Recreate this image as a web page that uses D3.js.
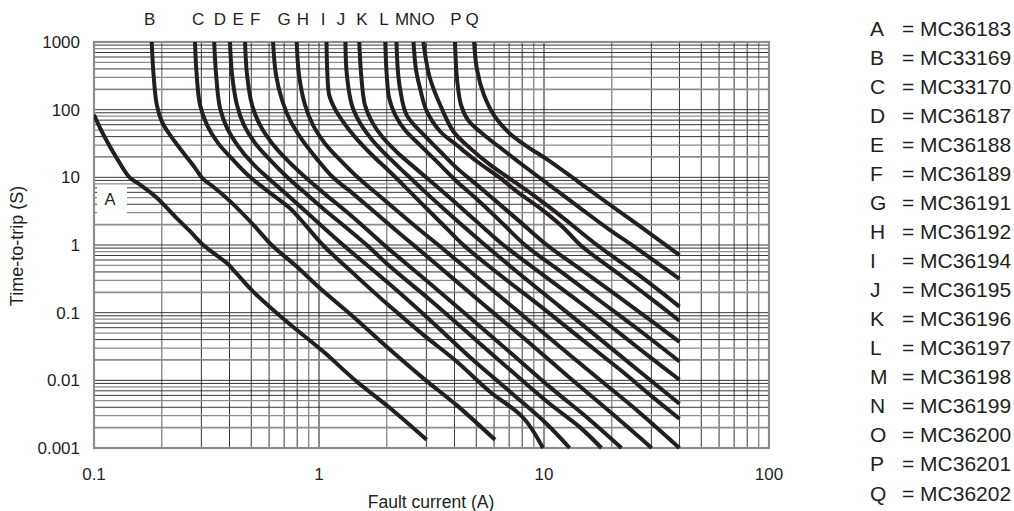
<!DOCTYPE html>
<html>
<head>
<meta charset="utf-8">
<script src="https://cdn.jsdelivr.net/npm/d3@7"></script>
<style>
  body { margin: 0; background: #fff; }
  svg { font-family: "Liberation Sans", Arial, sans-serif; }
</style>
</head>
<body>
<svg id="chart" width="1014" height="511"></svg>
<script>
// curve letters and the part they stand for
var curveNames = ["A","B","C","D","E","F","G","H","I","J","K","L","M","N","O","P","Q"];
var partNumbers = ["MC36183","MC33169","MC33170","MC36187","MC36188","MC36189","MC36191",
  "MC36192","MC36194","MC36195","MC36196","MC36197","MC36198","MC36199","MC36200","MC36201","MC36202"];

// where the letters sit above the plot (current, A)
var labelCurrents = [null,0.177,0.29,0.363,0.437,0.52,0.699,0.849,1.042,1.253,1.553,1.945,2.338,2.672,3.051,4.063,4.786];

// trip curves: [fault current (A), time-to-trip (s)]
var tripA = [[0.1,84],[0.110,43],[0.126,19.4],[0.1445,9.8],[0.160,7.8],[0.190,5.0],[0.233,2.5],[0.267,1.6],[0.306,1.0],[0.389,0.54],[0.416,0.43],[0.51,0.205],[0.718,0.074],[1.045,0.0266],[1.47,0.0096],[2.03,0.0041],[3.01,0.00132]];
var tripB = [[0.1805,1000],[0.1835,369],[0.190,119],[0.2005,66],[0.218,42],[0.246,24.5],[0.281,13.8],[0.305,9.5],[0.3345,7.5],[0.402,4.45],[0.51,2.0],[0.616,1.0],[0.796,0.48],[1.01,0.23],[1.42,0.087],[2.0,0.0313],[2.91,0.0107],[4.09,0.0043],[6.06,0.00132]];
var tripC = [[0.281,1000],[0.286,326],[0.296,117],[0.318,59],[0.356,32],[0.415,18.1],[0.494,10.1],[0.606,5.9],[0.743,3.5],[0.867,2.0],[1.04,1.0],[1.46,0.35],[2.07,0.123],[2.91,0.047],[4.09,0.019],[5.75,0.0068],[8.09,0.0028],[9.9,0.001]];
var tripD = [[0.342,1000],[0.349,326],[0.363,106],[0.390,54],[0.437,29],[0.504,16.3],[0.587,10.1],[0.706,5.9],[0.849,3.4],[1.03,1.9],[1.28,1.0],[2.07,0.26],[3.11,0.078],[4.69,0.022],[7.06,0.0068],[10.1,0.0024],[13.0,0.001]];
var tripE = [[0.402,1000],[0.411,326],[0.432,117],[0.464,59],[0.520,32],[0.606,18.1],[0.721,10.1],[0.867,5.9],[1.06,3.3],[1.31,1.85],[1.63,1.0],[2.07,0.48],[3.11,0.155],[4.69,0.047],[7.06,0.0143],[10.6,0.0045],[14.5,0.002],[18.0,0.001]];
var tripF = [[0.469,1000],[0.479,326],[0.504,117],[0.547,59],[0.618,32],[0.721,18.1],[0.867,10.1],[1.06,5.7],[1.31,3.2],[1.60,1.8],[1.97,0.97],[3.11,0.27],[4.69,0.084],[7.06,0.026],[10.6,0.008],[16.0,0.0026],[22.1,0.001]];
var tripG = [[0.625,1000],[0.644,326],[0.685,139],[0.743,70],[0.840,36],[0.970,19.4],[1.15,10.1],[1.42,5.7],[1.74,3.2],[2.13,1.8],[2.63,1.0],[3.82,0.35],[5.75,0.11],[8.67,0.035],[13.0,0.0109],[19.7,0.0034],[30.1,0.001]];
var tripH = [[0.796,1000],[0.815,326],[0.867,117],[0.940,59],[1.06,32],[1.24,18.1],[1.48,10.1],[1.81,5.7],[2.22,3.2],[2.73,1.8],[3.39,1.0],[5.2,0.305],[7.82,0.099],[11.8,0.031],[17.7,0.0102],[26.7,0.0033],[40,0.001]];
var tripI = [[1.08,1000],[1.09,326],[1.11,165],[1.17,106],[1.28,66],[1.46,38],[1.72,21.4],[2.07,12],[2.54,6.1],[3.11,3.1],[3.71,1.73],[4.38,1.0],[6.38,0.36],[9.6,0.126],[14.5,0.042],[21.8,0.0143],[29.6,0.0061],[40,0.0027]];
var tripJ = [[1.31,1000],[1.33,326],[1.40,117],[1.52,64],[1.72,36],[2.03,20],[2.41,11.6],[2.96,6.1],[3.63,3.3],[4.46,1.8],[5.47,1.0],[7.82,0.37],[11.8,0.122],[17.7,0.041],[26.7,0.0134],[40,0.0045]];
var tripK = [[1.51,1000],[1.54,326],[1.60,117],[1.72,66],[1.93,38],[2.24,22.9],[2.67,13.8],[3.28,7.7],[4.15,3.9],[5.2,2.0],[6.6,1.0],[9.6,0.39],[14.5,0.14],[21.8,0.049],[29.6,0.022],[40,0.0102]];
var tripL = [[1.97,1000],[2.0,326],[2.05,149],[2.18,84],[2.41,50],[2.81,30],[3.35,16.9],[4.06,8.9],[5.09,4.6],[6.44,2.2],[8.23,1.0],[11.8,0.41],[17.7,0.15],[26.7,0.054],[40,0.019]];
var tripM = [[2.21,1000],[2.24,386],[2.29,209],[2.45,84],[2.91,43],[3.45,24.3],[4.09,13.8],[5.02,7.8],[6.38,3.95],[8.09,2.0],[10.3,1.0],[14.5,0.44],[21.8,0.165],[29.6,0.078],[40,0.037]];
var tripN = [[2.63,1000],[2.70,386],[2.81,209],[3.01,95],[3.45,48],[4.09,30],[5.02,17.3],[6.38,9.8],[7.56,6.2],[9.6,3.5],[12.2,1.8],[14.5,1.0],[21.8,0.36],[29.6,0.165],[40,0.076]];
var tripO = [[2.91,1000],[2.99,542],[3.11,294],[3.45,119],[3.95,48],[4.69,27],[5.75,15.4],[7.31,8.8],[9.28,5.0],[12.2,2.5],[17.2,1.0],[26.7,0.35],[40,0.123]];
var tripP = [[4.02,1000],[4.11,275],[4.28,117],[4.6,70],[5.2,47],[6.25,29],[7.82,16.3],[10.4,8.0],[14.2,3.7],[19.3,1.73],[24.9,0.97],[40,0.316]];
var tripQ = [[4.89,1000],[5.04,386],[5.41,165],[6.06,78],[7.06,44],[8.49,28],[10.4,18.1],[14.2,8.6],[19.7,3.9],[28.1,1.67],[40,0.71]];

var trips = [tripA,tripB,tripC,tripD,tripE,tripF,tripG,tripH,tripI,tripJ,tripK,tripL,tripM,tripN,tripO,tripP,tripQ];

var xTickLabels = ["0.1","1","10","100"];
var yTickLabels = ["0.001","0.01","0.1","1","10","100","1000"];

var cfg = { left: 94, right: 769, top: 42, bot: 448 };

var svg = d3.select("#chart");

var x = d3.scaleLog().domain([0.1, 100]).range([cfg.left, cfg.right]);
var y = d3.scaleLog().domain([0.001, 1000]).range([cfg.bot, cfg.top]);

var grey = "#8c8c8c", ink = "#231f20";

// grid - scanned chart has a mix of grey and black rules
var grid = svg.append("g");
x.ticks().forEach(function(v){
  var m = Math.round(v / Math.pow(10, Math.floor(Math.log10(v) + 1e-9)));
  var isGrey = (m == 1 || m == 2 || m == 9);
  grid.append("line")
    .attr("x1", x(v)).attr("x2", x(v))
    .attr("y1", cfg.top).attr("y2", cfg.bot)
    .style("stroke", isGrey ? grey : ink)
    .style("stroke-width", m == 1 ? 2 : (isGrey ? 1.4 : 0.9));
});
y.ticks().forEach(function(v){
  var m = Math.round(v / Math.pow(10, Math.floor(Math.log10(v) + 1e-9)));
  var isGrey = (m == 2 || m == 3 || m == 5 || m == 8);
  grid.append("line")
    .attr("x1", cfg.left).attr("x2", cfg.right)
    .attr("y1", y(v)).attr("y2", y(v))
    .style("stroke", isGrey ? grey : ink)
    .style("stroke-width", m == 2 ? 1.8 : (isGrey ? 1.3 : 0.9));
});

// frame
svg.append("rect")
  .attr("x", cfg.left).attr("y", cfg.top)
  .attr("width", cfg.right - cfg.left).attr("height", cfg.bot - cfg.top)
  .style("fill", "none").style("stroke", grey).style("stroke-width", 2.2);

// label A sits in a white box on the grid
var aBox = svg.append("g").attr("transform", "translate(" + x(0.1178) + "," + y(4.8) + ")");
aBox.append("rect").attr("x", -13).attr("y", -14).attr("width", 30).attr("height", 29).style("fill", "#fff");
aBox.append("text").attr("text-anchor", "middle").attr("dy", "0.36em")
  .style("font-size", "16.5px").style("fill", ink).text("A");

svg.append("clipPath").attr("id", "plotClip").append("rect")
  .attr("x", cfg.left).attr("y", cfg.top - 2)
  .attr("width", cfg.right - cfg.left).attr("height", cfg.bot - cfg.top + 4);

var line = d3.line()
  .x(function(d){ return x(d[0]); })
  .y(function(d){ return y(d[1]); })
  .curve(d3.curveCatmullRom.alpha(0.5));

svg.append("g").attr("clip-path", "url(#plotClip)")
  .selectAll("path")
  .data(trips)
  .enter().append("path")
  .attr("d", line)
  .style("fill", "none")
  .style("stroke", ink)
  .style("stroke-width", 4)
  .style("stroke-linejoin", "round");

// letters above the curves
svg.append("g").selectAll("text")
  .data(curveNames.slice(1))
  .enter().append("text")
  .attr("x", function(d, i){ return x(labelCurrents[i + 1]); })
  .attr("y", 25)
  .attr("text-anchor", "middle")
  .style("font-size", "17px").style("fill", ink)
  .text(function(d){ return d; });

// axis tick labels
svg.append("g").selectAll("text")
  .data(yTickLabels)
  .enter().append("text")
  .attr("x", 80)
  .attr("y", function(d){ return y(+d); })
  .attr("dy", "0.36em")
  .attr("text-anchor", "end")
  .style("font-size", "17px").style("fill", ink)
  .text(function(d){ return d; });

svg.append("g").selectAll("text")
  .data(xTickLabels)
  .enter().append("text")
  .attr("x", function(d){ return x(+d); })
  .attr("y", 474)
  .attr("dy", "0.36em")
  .attr("text-anchor", "middle")
  .style("font-size", "17px").style("fill", ink)
  .text(function(d){ return d; });

svg.append("text")
  .attr("x", 431).attr("y", 502).attr("dy", "0.36em")
  .attr("text-anchor", "middle")
  .style("font-size", "17.5px").style("fill", ink)
  .text("Fault current (A)");

svg.append("text")
  .attr("transform", "translate(17,246) rotate(-90)")
  .attr("dy", "0.36em")
  .attr("text-anchor", "middle")
  .style("font-size", "18px").style("fill", ink)
  .text("Time-to-trip (S)");

// legend
var legend = svg.append("g").selectAll("g")
  .data(curveNames)
  .enter().append("g")
  .attr("transform", function(d, i){ return "translate(870," + (28 + i * 29.06) + ")"; });

legend.append("text")
  .attr("dy", "0.36em")
  .style("font-size", "21px").style("fill", ink)
  .text(function(d){ return d; });

legend.append("text")
  .attr("x", 32)
  .attr("dy", "0.36em")
  .style("font-size", "21px").style("fill", ink)
  .text(function(d, i){ return "= " + partNumbers[i]; });
</script>
</body>
</html>
